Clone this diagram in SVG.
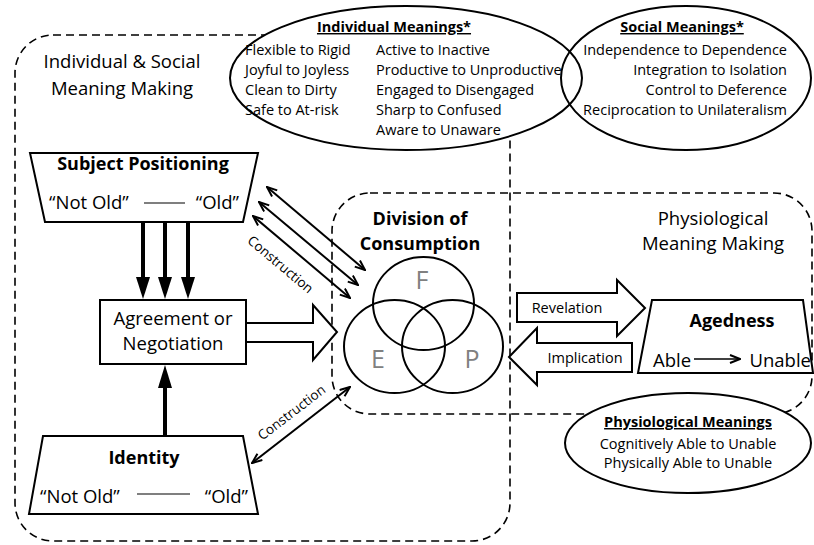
<svg xmlns="http://www.w3.org/2000/svg" width="814" height="545" viewBox="0 0 814 545">
<defs>
<style>
text{font-family:"Open Sans","Noto Sans","DejaVu Sans",sans-serif;fill:#000}
.big{font-size:18.5px}
.bold{font-weight:bold;font-size:18px}
.sm{font-size:14.5px}
.smb{font-size:14.5px;font-weight:bold;text-decoration:underline}
.lab{font-size:13.5px}
.ltr{font-size:25px;fill:#808080}
.dash{fill:none;stroke:#000;stroke-width:1.6;stroke-dasharray:8 5}
.shape{fill:#fff;stroke:#000;stroke-width:2}
.outline{fill:none;stroke:#000;stroke-width:2}
.thin{fill:none;stroke:#000;stroke-width:2}
.thick{stroke:#000;stroke-width:4;fill:none}
.head{fill:#000;stroke:none}
.mid{text-anchor:middle}
.end{text-anchor:end}
</style>
<marker id="ah" viewBox="0 0 12 10" refX="11" refY="5" markerWidth="12" markerHeight="10" markerUnits="userSpaceOnUse" orient="auto-start-reverse">
<path d="M1,1 L11,5 L1,9" fill="none" stroke="#000" stroke-width="2"/>
</marker>
</defs>

<g id="region-individual-social">
<rect class="dash" x="15" y="35" width="495" height="506" rx="38" ry="38"/>
<text class="big mid" x="122" y="68">Individual &amp; Social</text>
<text class="big mid" x="122" y="95">Meaning Making</text>
</g>

<g id="region-physiological">
<rect class="dash" x="332" y="193" width="480" height="221" rx="38" ry="38"/>
<text class="big mid" x="713" y="225">Physiological</text>
<text class="big mid" x="713" y="250">Meaning Making</text>
</g>

<g id="individual-meanings">
<ellipse cx="406" cy="78" rx="176" ry="72" fill="#fff" stroke="none"/>
</g>
<g id="social-meanings">
<ellipse cx="686" cy="78" rx="125" ry="72" fill="#fff" stroke="none"/>
</g>
<g id="meaning-outlines">
<ellipse class="outline" cx="406" cy="78" rx="176" ry="72"/>
<ellipse class="outline" cx="686" cy="78" rx="125" ry="72"/>
</g>
<g id="individual-meanings-text">
<text class="smb mid" x="394" y="32">Individual Meanings*</text>
<text class="sm" x="245" y="55">Flexible to Rigid</text>
<text class="sm" x="245" y="75">Joyful to Joyless</text>
<text class="sm" x="245" y="95">Clean to Dirty</text>
<text class="sm" x="245" y="115">Safe to At-risk</text>
<text class="sm" x="376" y="55">Active to Inactive</text>
<text class="sm" x="376" y="75">Productive to Unproductive</text>
<text class="sm" x="376" y="95">Engaged to Disengaged</text>
<text class="sm" x="376" y="115">Sharp to Confused</text>
<text class="sm" x="376" y="135">Aware to Unaware</text>
</g>
<g id="social-meanings-text">
<text class="smb mid" x="682" y="32">Social Meanings*</text>
<text class="sm end" x="787" y="55">Independence to Dependence</text>
<text class="sm end" x="787" y="75">Integration to Isolation</text>
<text class="sm end" x="787" y="95">Control to Deference</text>
<text class="sm end" x="787" y="115">Reciprocation to Unilateralism</text>
</g>

<g id="physiological-meanings">
<ellipse class="shape" cx="688" cy="443" rx="123" ry="50"/>
<text class="smb mid" x="688" y="427">Physiological Meanings</text>
<text class="sm mid" x="688" y="449">Cognitively Able to Unable</text>
<text class="sm mid" x="688" y="468">Physically Able to Unable</text>
</g>

<g id="subject-positioning">
<polygon class="shape" points="30,153 258,153 243,222 45,222"/>
<text class="bold mid" x="143" y="170">Subject Positioning</text>
<text class="big" x="49" y="209">“Not Old”</text>
<line x1="144" y1="203" x2="185" y2="203" stroke="#000" stroke-width="1.2"/>
<text class="big end" x="239" y="209">“Old”</text>
</g>

<g id="agreement">
<rect class="shape" x="100" y="300" width="146" height="64"/>
<text class="big mid" x="173" y="325">Agreement or</text>
<text class="big mid" x="173" y="350">Negotiation</text>
</g>

<g id="identity">
<polygon class="shape" points="43,436 243,436 258,514 29,514"/>
<text class="bold mid" x="144" y="464">Identity</text>
<text class="big" x="40" y="503">“Not Old”</text>
<line x1="137" y1="494" x2="190" y2="494" stroke="#000" stroke-width="1.2"/>
<text class="big end" x="248" y="503">“Old”</text>
</g>

<g id="division-of-consumption">
<text class="bold mid" x="420" y="225">Division of</text>
<text class="bold mid" x="420" y="250">Consumption</text>
<ellipse class="outline" cx="423.5" cy="303.5" rx="50.5" ry="46.5"/>
<ellipse class="outline" cx="394.5" cy="346.5" rx="50.5" ry="46.5"/>
<ellipse class="outline" cx="452.5" cy="346.5" rx="50.5" ry="46.5"/>
<text class="ltr mid" x="422" y="289">F</text>
<text class="ltr mid" x="378" y="368">E</text>
<text class="ltr mid" x="472" y="368">P</text>
</g>

<g id="agedness">
<polygon class="shape" points="652,300 803,300 813,373 638,373"/>
<text class="bold mid" x="732" y="327">Agedness</text>
<text class="big" x="653" y="367">Able</text>
<line x1="694" y1="359" x2="740" y2="359" stroke="#000" stroke-width="1.3" marker-end="url(#ah)"/>
<text class="big end" x="811" y="367">Unable</text>
</g>

<g id="connectors">
<line class="thick" x1="143" y1="222" x2="143" y2="280"/>
<polygon class="head" points="136,277 150,277 143,299"/>
<line class="thick" x1="165" y1="222" x2="165" y2="280"/>
<polygon class="head" points="158,277 172,277 165,299"/>
<line class="thick" x1="188" y1="222" x2="188" y2="280"/>
<polygon class="head" points="181,277 195,277 188,299"/>
<line class="thick" x1="165" y1="436" x2="165" y2="385"/>
<polygon class="head" points="158,388 172,388 165,365"/>
<polygon class="shape" points="246,323 313,323 313,305 337,332 313,360 313,342 246,342"/>
<line class="thin" x1="267" y1="187" x2="365" y2="270" marker-start="url(#ah)" marker-end="url(#ah)"/>
<line class="thin" x1="259" y1="202" x2="358" y2="285" marker-start="url(#ah)" marker-end="url(#ah)"/>
<line class="thin" x1="253" y1="216" x2="350" y2="298" marker-start="url(#ah)" marker-end="url(#ah)"/>
<text class="lab mid" transform="translate(280,265) rotate(40)" y="4">Construction</text>
<line class="thin" x1="252" y1="463" x2="350" y2="387" marker-start="url(#ah)" marker-end="url(#ah)"/>
<text class="lab mid" transform="translate(292,413) rotate(-37.5)" y="4">Construction</text>
<polygon class="shape" points="517,293 617,293 617,280 645,308 617,336 617,322 517,322"/>
<text class="sm mid" x="567" y="313">Revelation</text>
<polygon class="shape" points="509,357 537,328 537,343 632,343 632,372 537,372 537,385"/>
<text class="sm mid" x="585" y="363">Implication</text>
</g>
</svg>
